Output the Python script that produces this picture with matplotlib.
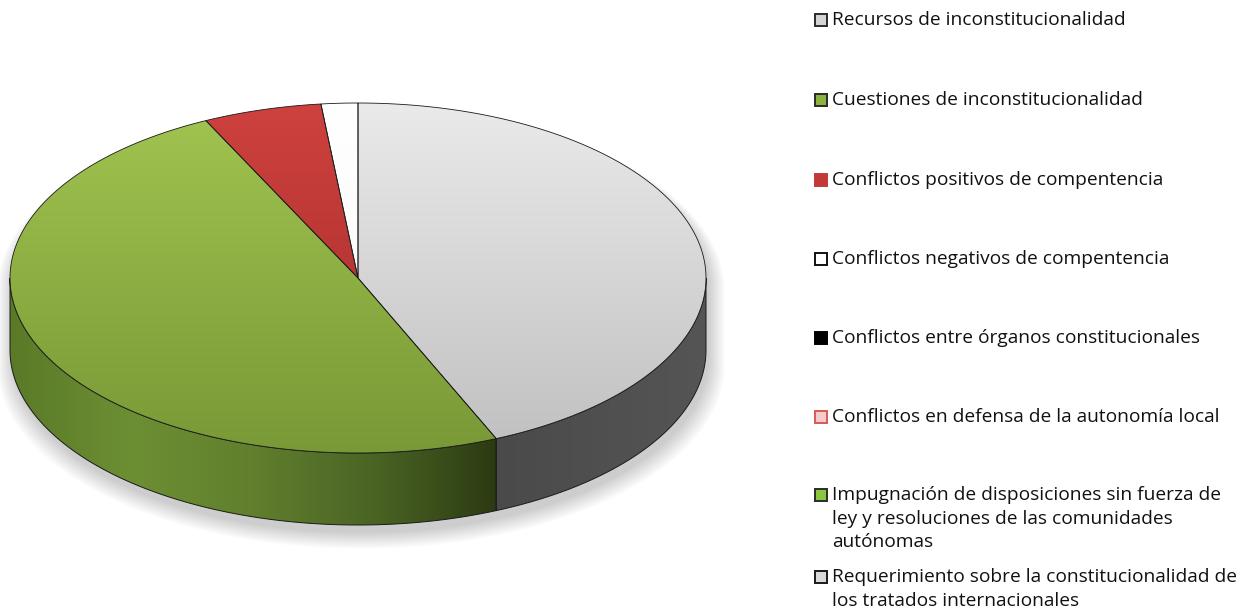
import numpy as np
import matplotlib.pyplot as plt
from matplotlib.patches import Polygon, Rectangle
from matplotlib.colors import LinearSegmentedColormap

# categories and shares (percent)
labels = [
    "Recursos de inconstitucionalidad",
    "Cuestiones de inconstitucionalidad",
    "Conflictos positivos de compentencia",
    "Conflictos negativos de compentencia",
    "Conflictos entre órganos constitucionales",
    "Conflictos en defensa de la autonomía local",
    "Impugnación de disposiciones sin fuerza de\nley y resoluciones de las comunidades\nautónomas",
    "Requerimiento sobre la constitucionalidad de\nlos tratados internacionales",
]
values = [43.5, 49.3, 5.5, 1.7, 0, 0, 0, 0]

top_grad = [["#eaeaea", "#c0c0c0"], ["#a2c450", "#789936"], ["#ce413e", "#a12b29"],
            ["#ffffff", "#f6f6f6"], ["#111111", "#000000"], ["#f6d0cf", "#eeb4b3"],
            ["#97c54c", "#7aa83a"], ["#e0e0e0", "#c8c8c8"]]
side_grad = [["#4a4a4a", "#555555"], ["#5a7a28", "#6d8f33", "#617f2d", "#4a6424", "#2c3a12"],
             ["#8a2220", "#5e1514"], ["#dddddd", "#bbbbbb"], ["#000000", "#000000"],
             ["#d9a9a8", "#c08a89"], ["#6f9a35", "#4c6a22"], ["#9a9a9a", "#777777"]]
legend_fill = ["#d4d4d4", "#8ab43f", "#c23a38", "#ffffff", "#000000", "#f7c9c8", "#8cc63f", "#d9d9d9"]
legend_edge = ["#2b2b2b", "#2b2b2b", "#c23a38", "#111111", "#000000", "#d65a57", "#2b2b2b", "#1a1a1a"]
legend_y = [20, 100, 180, 259, 338, 417, 495, 577]

W, H = 1252, 615
cx, cy, a, b, depth = 358, 278, 348, 175, 72

fig = plt.figure(figsize=(W / 100, H / 100), dpi=100)
ax = fig.add_axes([0, 0, 1, 1])
ax.set_xlim(0, W)
ax.set_ylim(H, 0)
ax.axis("off")


def edge(t0, t1, dz=0, n=120):
    t = np.radians(np.linspace(t0, t1, n))
    return np.column_stack([cx + a * np.sin(t), cy - b * np.cos(t) + dz])


def gradient_fill(patch, colors, horizontal=False, extent=(0, 720, 540, 90)):
    cmap = LinearSegmentedColormap.from_list("g", colors)
    g = np.linspace(0, 1, 256)
    arr = g[np.newaxis, :] if horizontal else g[:, np.newaxis]
    ax.add_patch(patch)
    im = ax.imshow(arr, cmap=cmap, extent=extent, aspect="auto", zorder=patch.get_zorder())
    im.set_clip_path(patch)


# soft shadow under the pie
sil = np.vstack([edge(90, 270, depth), edge(270, 450, 0)])
for k in range(10):
    grow = 1 + k * 0.005
    pts = np.column_stack([cx + (sil[:, 0] - cx) * grow + 3, cy + 8 + (sil[:, 1] - cy) * grow + k * 0.5])
    ax.add_patch(Polygon(pts, closed=True, facecolor="#000000", alpha=0.02, edgecolor="none", zorder=1))

total = sum(values)
start = 0.0
slices = []
for i, v in enumerate(values):
    if v <= 0:
        continue
    span = 360.0 * v / total
    slices.append((i, start, start + span))
    start += span

# side walls (front half only)
for i, t0, t1 in slices:
    s0, s1 = max(t0, 90), min(t1, 270)
    if s1 <= s0:
        continue
    pts = np.vstack([edge(s0, s1), edge(s0, s1, depth)[::-1]])
    x0, x1 = pts[:, 0].min(), pts[:, 0].max()
    gradient_fill(Polygon(pts, closed=True, facecolor="none", edgecolor="none", zorder=2),
                  side_grad[i], horizontal=True, extent=(x0, x1, 540, 90))
    ax.add_patch(Polygon(pts, closed=True, facecolor="none", edgecolor="#1a1a1a", linewidth=0.7, zorder=3))

# top faces
for i, t0, t1 in slices:
    pts = np.vstack([[cx, cy], edge(t0, t1)])
    gradient_fill(Polygon(pts, closed=True, facecolor="none", edgecolor="none", zorder=4),
                  top_grad[i], extent=(0, 720, cy + b, cy - b))
    ax.add_patch(Polygon(pts, closed=True, facecolor="none", edgecolor="#1a1a1a", linewidth=0.6, zorder=5))

# legend
for i, lab in enumerate(labels):
    y = legend_y[i]
    ax.add_patch(Rectangle((814.5, y - 6), 12, 12, facecolor=legend_fill[i],
                           edgecolor=legend_edge[i], linewidth=1.4, zorder=6))
    for j, line in enumerate(lab.split("\n")):
        ax.text(832, y + 23.5 * j, line, va="center", ha="left", fontsize=13.8,
                family="Open Sans", color="#111111")

fig.savefig("out.png", dpi=100)
